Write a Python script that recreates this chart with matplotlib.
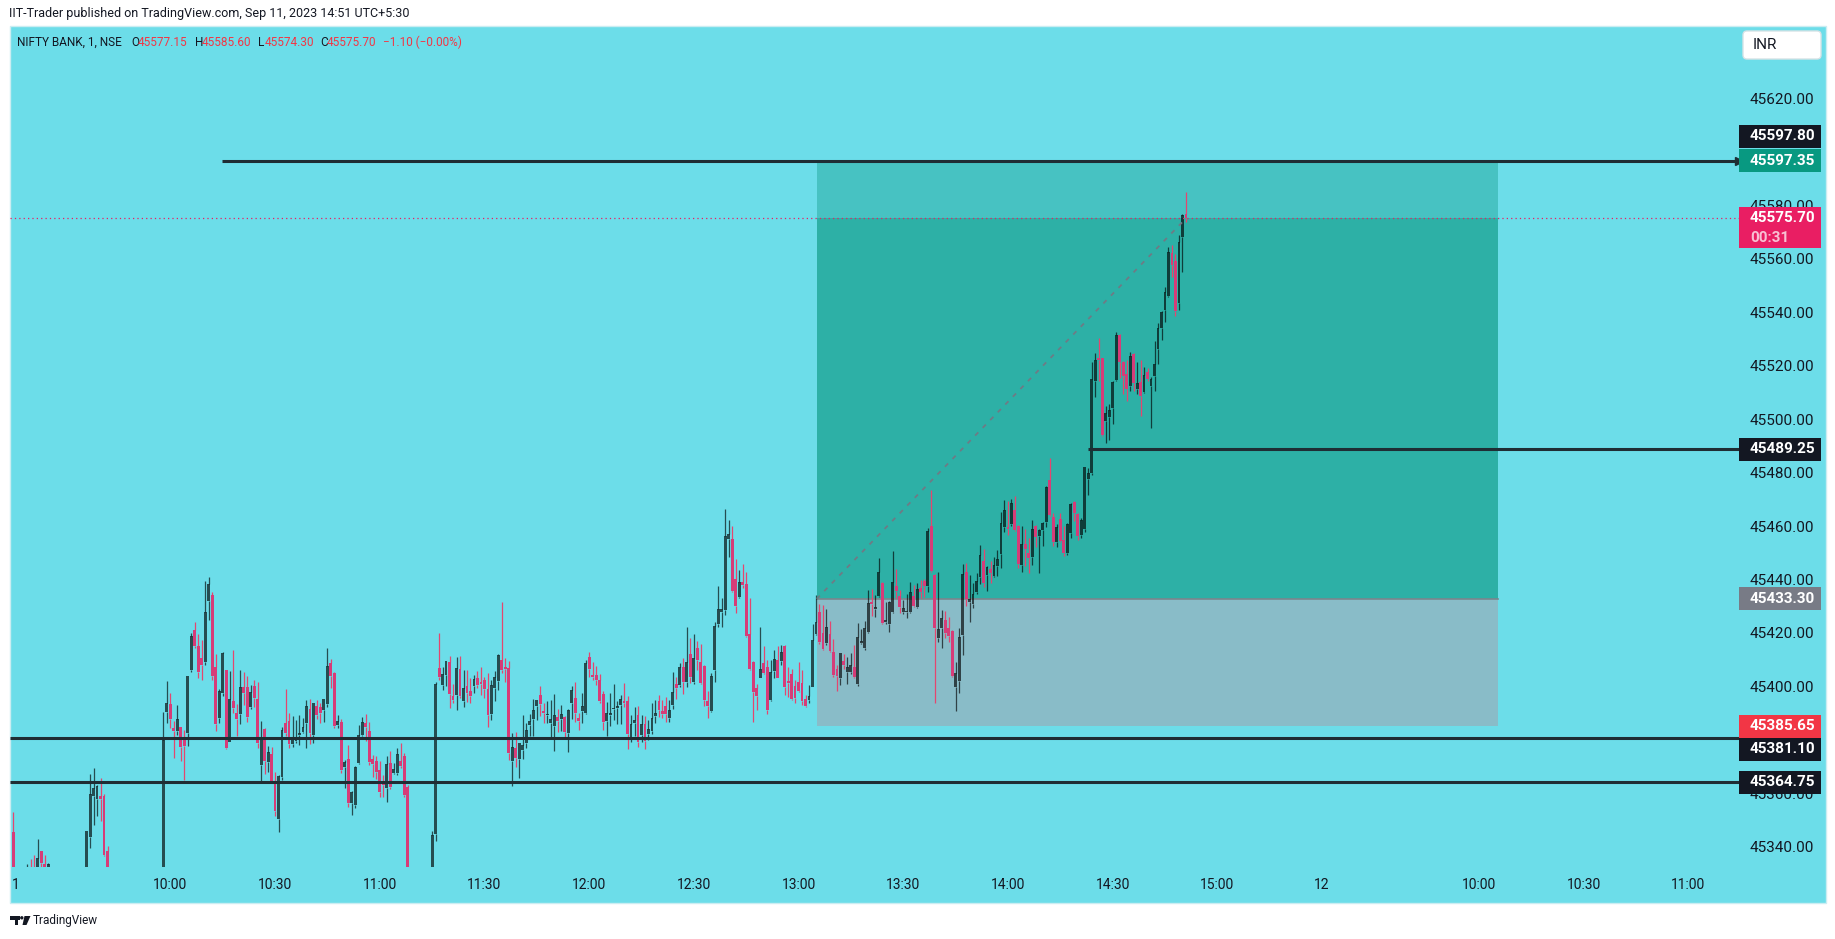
"""
NIFTY BANK 1-minute candles, TradingView style snapshot
"""
import matplotlib
matplotlib.use("Agg")
import matplotlib.pyplot as plt
from matplotlib.patches import Rectangle, FancyBboxPatch, Polygon, Circle
import numpy as np

plt.rcParams['font.family'] = ['Roboto', 'DejaVu Sans']

# ---- data (1-minute bars from 09:15 on Sep 11) ----
opens = [
    45346.0, 45322.0, 45318.0, 45324.0, 45326.0, 45332.0, 45330.0, 45326.0, 45339.0, 45334.0,
    45330.0, 45332.0, 45320.0, 45316.0, 45318.0, 45322.0, 45320.0, 45314.0, 45318.0, 45324.0,
    45326.0, 45328.0, 45344.3, 45359.5, 45358.5, 45359.5, 45359.5, 45338.9, 45325.0, 45320.0,
    45324.0, 45322.0, 45315.0, 45310.0, 45316.0, 45322.0, 45319.0, 45314.0, 45318.0, 45323.0,
    45320.0, 45318.0, 45320.0, 45322.0, 45391.0, 45393.8, 45384.8, 45384.0, 45385.2, 45381.5,
    45383.0, 45406.6, 45421.6, 45415.6, 45411.2, 45409.7, 45432.6, 45434.7, 45407.7, 45388.8,
    45398.1, 45406.6, 45379.8, 45395.0, 45390.4, 45390.3, 45400.2, 45400.2, 45393.0, 45400.7,
    45395.8, 45371.1, 45384.6, 45372.4, 45375.2, 45364.9, 45350.9, 45366.8, 45386.7, 45387.6,
    45379.0, 45380.2, 45382.2, 45383.3, 45386.9, 45391.9, 45382.3, 45393.2, 45392.7, 45391.7,
    45393.9, 45409.4, 45405.4, 45386.0, 45387.3, 45370.5, 45373.4, 45357.0, 45356.2, 45372.0,
    45382.4, 45386.7, 45383.9, 45373.3, 45372.6, 45369.2, 45364.5, 45362.4, 45371.8, 45368.0,
    45368.2, 45372.5, 45374.4, 45363.0, 45322.0, 45316.0, 45320.0, 45318.0, 45322.0, 45326.0,
    45324.0, 45345.3, 45407.4, 45401.0, 45404.8, 45409.8, 45397.0, 45397.3, 45407.0, 45395.0,
    45400.6, 45398.8, 45400.6, 45403.6, 45402.2, 45402.9, 45399.5, 45390.2, 45400.0, 45402.6,
    45410.4, 45407.9, 45407.5, 45372.7, 45377.3, 45373.3, 45376.7, 45379.4, 45386.1, 45388.5,
    45393.2, 45397.5, 45391.3, 45389.8, 45386.7, 45385.7, 45389.0, 45388.5, 45388.9, 45383.2,
    45394.4, 45396.3, 45388.8, 45391.4, 45390.4, 45411.5, 45404.8, 45404.8, 45402.9, 45397.7,
    45387.7, 45389.8, 45392.2, 45392.6, 45393.5, 45395.2, 45395.0, 45381.4, 45387.0, 45389.8,
    45382.3, 45386.4, 45382.7, 45384.0, 45389.6, 45395.0, 45391.4, 45393.2, 45388.6, 45393.6,
    45401.4, 45401.0, 45407.9, 45402.3, 45412.6, 45402.0, 45414.9, 45409.8, 45408.2, 45395.2,
    45391.4, 45406.7, 45423.9, 45428.5, 45429.1, 45455.7, 45455.7, 45440.7, 45433.9, 45439.6,
    45438.8, 45420.1, 45409.6, 45400.0, 45403.8, 45409.2, 45407.7, 45395.4, 45406.4, 45410.4,
    45410.2, 45415.6, 45402.5, 45405.2, 45400.7, 45402.3, 45401.7, 45396.0, 45395.4, 45400.4,
    45420.1, 45428.4, 45420.4, 45416.6, 45420.1, 45413.4, 45407.0, 45403.8, 45410.0, 45406.0,
    45406.0, 45407.9, 45401.3, 45416.8, 45414.8, 45421.0, 45432.2, 45429.5, 45434.4, 45439.1,
    45424.5, 45423.9, 45428.3, 45438.1, 45434.4, 45428.2, 45428.2, 45428.3, 45434.4, 45430.4,
    45437.2, 45440.0, 45438.2, 45460.7, 45442.2, 45418.8, 45422.5, 45425.4, 45422.3, 45421.3,
    45400.2, 45402.7, 45419.8, 45443.2, 45432.3, 45431.4, 45435.7, 45441.6, 45447.5, 45442.2,
    45444.5, 45442.0, 45445.7, 45450.1, 45460.3, 45460.3, 45461.3, 45466.6, 45460.7, 45446.0,
    45453.8, 45450.3, 45449.1, 45460.6, 45457.0, 45459.1, 45462.2, 45477.8, 45464.1, 45454.7,
    45463.2, 45455.3, 45450.3, 45458.1, 45469.6, 45465.1, 45457.2, 45459.4, 45478.2, 45480.5,
    45515.0, 45523.3, 45523.3, 45500.0, 45501.5, 45504.9, 45515.2, 45532.1, 45522.1, 45517.4,
    45512.9, 45524.9, 45511.8, 45514.6, 45510.8, 45518.3, 45512.9, 45516.7, 45526.8, 45534.6,
    45541.4, 45546.7, 45562.9, 45559.9, 45544.2, 45568.6, 45577.15,
]
highs = [
    45353.5, 45328.0, 45326.0, 45330.0, 45334.0, 45336.0, 45337.5, 45343.5, 45339.0, 45337.5,
    45334.5, 45333.0, 45325.0, 45322.0, 45326.0, 45328.0, 45324.0, 45322.0, 45326.0, 45330.0,
    45331.0, 45346.5, 45367.7, 45370.0, 45363.5, 45366.2, 45360.3, 45340.8, 45330.0, 45327.0,
    45329.0, 45326.0, 45320.0, 45318.0, 45324.0, 45328.0, 45325.0, 45320.0, 45326.0, 45330.0,
    45326.0, 45324.0, 45330.0, 45391.0, 45402.5, 45398.2, 45387.6, 45393.4, 45385.5, 45384.2,
    45404.5, 45420.7, 45424.7, 45420.0, 45417.8, 45440.0, 45441.4, 45435.7, 45412.6, 45399.4,
    45413.4, 45406.8, 45406.4, 45414.2, 45393.9, 45406.7, 45405.9, 45404.5, 45401.0, 45402.9,
    45402.2, 45387.6, 45385.0, 45378.3, 45377.9, 45368.5, 45367.5, 45385.2, 45399.6, 45390.4,
    45389.5, 45388.0, 45389.8, 45388.8, 45395.4, 45395.8, 45394.5, 45395.4, 45394.2, 45396.0,
    45414.8, 45410.7, 45405.8, 45389.8, 45388.5, 45373.0, 45378.6, 45361.5, 45370.9, 45386.0,
    45389.1, 45390.2, 45387.3, 45374.9, 45374.5, 45372.7, 45367.2, 45374.5, 45376.3, 45371.7,
    45377.6, 45379.5, 45375.6, 45363.5, 45328.0, 45324.0, 45327.0, 45326.0, 45330.0, 45331.0,
    45346.5, 45402.0, 45420.6, 45407.9, 45410.2, 45411.9, 45401.3, 45411.5, 45411.9, 45406.6,
    45406.6, 45403.6, 45404.8, 45406.3, 45407.8, 45404.1, 45405.4, 45402.9, 45406.4, 45412.5,
    45432.2, 45411.2, 45410.0, 45383.2, 45383.6, 45379.5, 45389.8, 45387.0, 45390.2, 45395.7,
    45395.6, 45400.6, 45394.2, 45395.2, 45395.4, 45397.7, 45391.9, 45393.5, 45389.4, 45392.0,
    45400.6, 45402.3, 45390.6, 45398.2, 45410.4, 45413.5, 45409.8, 45408.2, 45405.1, 45398.8,
    45394.8, 45397.9, 45401.3, 45395.0, 45397.5, 45401.7, 45396.9, 45389.8, 45392.9, 45393.3,
    45389.8, 45389.4, 45387.9, 45394.5, 45395.4, 45397.3, 45395.4, 45396.4, 45395.4, 45406.0,
    45404.2, 45409.4, 45411.0, 45422.9, 45418.5, 45420.1, 45417.6, 45416.4, 45408.5, 45398.8,
    45405.7, 45424.8, 45438.1, 45433.7, 45466.9, 45462.8, 45460.6, 45448.4, 45444.0, 45446.3,
    45443.5, 45433.7, 45410.0, 45401.4, 45422.9, 45415.6, 45410.4, 45410.4, 45414.2, 45415.6,
    45416.0, 45416.0, 45407.9, 45406.9, 45402.9, 45409.5, 45406.6, 45397.3, 45401.0, 45423.9,
    45434.7, 45431.4, 45431.0, 45429.5, 45425.0, 45418.2, 45408.5, 45413.2, 45412.6, 45411.7,
    45412.9, 45416.0, 45424.1, 45422.0, 45425.1, 45436.6, 45436.9, 45434.7, 45448.5, 45439.5,
    45432.2, 45432.6, 45451.2, 45444.3, 45436.5, 45433.0, 45435.3, 45439.7, 45438.5, 45439.3,
    45440.4, 45440.6, 45459.7, 45474.0, 45442.5, 45443.2, 45429.1, 45428.8, 45426.4, 45421.6,
    45409.5, 45422.3, 45446.4, 45446.8, 45442.2, 45439.1, 45442.9, 45453.5, 45452.0, 45445.5,
    45447.5, 45449.1, 45451.6, 45465.8, 45470.3, 45470.0, 45470.7, 45471.8, 45461.0, 45460.6,
    45459.3, 45456.0, 45462.8, 45461.0, 45459.5, 45462.0, 45475.5, 45485.9, 45465.3, 45461.2,
    45465.5, 45460.7, 45461.6, 45469.2, 45470.0, 45465.5, 45463.7, 45482.8, 45482.2, 45521.8,
    45525.4, 45530.8, 45523.6, 45505.5, 45506.2, 45514.9, 45533.1, 45532.5, 45522.4, 45522.7,
    45525.6, 45525.2, 45522.1, 45522.7, 45520.0, 45519.8, 45516.5, 45529.8, 45536.4, 45541.0,
    45550.1, 45565.1, 45565.7, 45562.4, 45569.5, 45577.3, 45585.6,
]
lows = [
    45320.0, 45310.0, 45312.0, 45318.0, 45322.0, 45326.0, 45322.0, 45324.0, 45330.0, 45326.0,
    45328.0, 45318.0, 45312.0, 45308.0, 45314.0, 45316.0, 45310.0, 45310.0, 45312.0, 45318.0,
    45320.0, 45325.0, 45339.9, 45348.6, 45352.1, 45350.0, 45337.0, 45318.0, 45316.0, 45314.0,
    45318.0, 45312.0, 45306.0, 45304.0, 45312.0, 45316.0, 45310.0, 45308.0, 45314.0, 45318.0,
    45314.0, 45312.0, 45316.0, 45318.0, 45387.0, 45385.0, 45373.7, 45382.2, 45372.8, 45365.4,
    45378.2, 45406.0, 45415.0, 45403.7, 45403.0, 45408.7, 45425.3, 45403.0, 45383.7, 45386.7,
    45397.0, 45377.0, 45379.8, 45390.4, 45382.0, 45386.5, 45393.6, 45387.3, 45392.0, 45393.0,
    45377.6, 45365.1, 45367.9, 45368.6, 45364.5, 45352.2, 45346.2, 45365.5, 45382.0, 45377.4,
    45377.7, 45379.2, 45378.5, 45383.0, 45377.6, 45379.0, 45379.5, 45388.2, 45386.7, 45387.3,
    45392.7, 45399.8, 45385.0, 45385.1, 45368.2, 45362.4, 45355.5, 45352.4, 45355.0, 45371.5,
    45382.0, 45380.2, 45371.1, 45366.5, 45365.8, 45359.3, 45359.3, 45357.4, 45362.0, 45367.7,
    45367.4, 45370.0, 45359.3, 45318.0, 45312.0, 45310.0, 45314.0, 45312.0, 45318.0, 45320.0,
    45320.0, 45342.8, 45402.9, 45399.1, 45400.6, 45392.5, 45394.4, 45391.7, 45396.3, 45392.9,
    45394.8, 45394.2, 45398.2, 45399.8, 45397.3, 45396.3, 45385.4, 45387.9, 45395.0, 45399.2,
    45405.4, 45402.3, 45373.0, 45363.2, 45370.5, 45366.1, 45373.2, 45377.3, 45381.9, 45381.9,
    45387.9, 45389.4, 45386.9, 45386.7, 45381.4, 45376.4, 45383.6, 45384.0, 45380.8, 45376.1,
    45388.5, 45387.3, 45384.2, 45386.9, 45390.1, 45404.1, 45402.9, 45401.0, 45394.5, 45384.2,
    45381.9, 45385.7, 45387.9, 45386.4, 45386.4, 45392.9, 45377.1, 45379.8, 45381.9, 45378.0,
    45379.8, 45377.0, 45380.5, 45382.8, 45386.9, 45389.2, 45388.6, 45387.3, 45387.3, 45392.0,
    45396.0, 45400.2, 45397.7, 45400.2, 45401.9, 45401.6, 45406.7, 45401.5, 45393.2, 45388.8,
    45391.0, 45402.3, 45422.9, 45422.9, 45427.3, 45449.1, 45436.0, 45428.1, 45433.5, 45437.5,
    45419.0, 45406.5, 45387.3, 45391.7, 45403.5, 45405.0, 45390.2, 45395.2, 45403.5, 45403.5,
    45408.5, 45397.3, 45396.7, 45395.5, 45394.2, 45398.5, 45393.6, 45393.0, 45394.2, 45400.2,
    45419.7, 45416.5, 45414.0, 45416.0, 45413.5, 45404.2, 45398.9, 45401.0, 45407.0, 45401.4,
    45405.0, 45403.5, 45400.8, 45416.5, 45414.2, 45420.4, 45426.9, 45426.4, 45434.0, 45423.8,
    45424.0, 45421.0, 45428.0, 45433.5, 45428.1, 45427.5, 45426.3, 45428.0, 45430.3, 45430.0,
    45433.5, 45434.1, 45436.0, 45443.5, 45394.4, 45417.0, 45414.8, 45418.5, 45417.0, 45404.0,
    45391.2, 45398.0, 45412.3, 45430.7, 45424.8, 45429.8, 45435.2, 45438.9, 45437.9, 45436.4,
    45439.1, 45441.5, 45442.0, 45444.7, 45458.4, 45457.2, 45460.7, 45458.7, 45445.0, 45443.5,
    45445.6, 45443.1, 45446.0, 45452.8, 45442.9, 45453.2, 45460.2, 45464.3, 45453.2, 45452.8,
    45454.6, 45449.5, 45449.8, 45456.0, 45462.6, 45455.3, 45455.9, 45458.2, 45472.2, 45479.7,
    45509.0, 45515.0, 45494.2, 45491.8, 45492.8, 45498.7, 45515.0, 45515.8, 45510.0, 45507.5,
    45511.2, 45511.2, 45510.0, 45501.7, 45510.5, 45515.0, 45497.4, 45511.2, 45521.2, 45530.2,
    45537.0, 45546.3, 45553.9, 45539.2, 45541.4, 45555.8, 45574.3,
]
closes = [
    45322.0, 45318.0, 45324.0, 45326.0, 45332.0, 45328.0, 45326.0, 45336.5, 45334.5, 45332.0,
    45334.0, 45320.0, 45316.0, 45318.0, 45322.0, 45320.0, 45314.0, 45318.0, 45324.0, 45326.0,
    45328.0, 45346.5, 45360.3, 45362.7, 45363.2, 45358.5, 45337.5, 45325.0, 45320.0, 45324.0,
    45322.0, 45315.0, 45310.0, 45316.0, 45322.0, 45319.0, 45314.0, 45318.0, 45323.0, 45320.0,
    45318.0, 45320.0, 45322.0, 45380.5, 45394.5, 45388.2, 45383.8, 45388.2, 45377.8, 45378.2,
    45404.3, 45419.3, 45415.6, 45406.0, 45408.6, 45428.3, 45438.8, 45404.3, 45386.5, 45398.9,
    45413.0, 45377.6, 45395.8, 45392.5, 45388.2, 45400.3, 45398.2, 45389.0, 45398.4, 45396.3,
    45379.5, 45381.1, 45372.8, 45376.0, 45364.9, 45353.9, 45367.0, 45384.3, 45383.2, 45379.0,
    45380.8, 45380.9, 45383.0, 45385.4, 45393.2, 45383.2, 45394.2, 45389.8, 45390.7, 45395.8,
    45408.2, 45404.4, 45385.7, 45387.5, 45369.2, 45372.1, 45357.0, 45361.1, 45370.5, 45382.4,
    45387.3, 45385.5, 45372.4, 45371.5, 45368.6, 45361.2, 45363.6, 45371.5, 45363.0, 45369.6,
    45375.4, 45370.8, 45359.9, 45322.0, 45316.0, 45320.0, 45318.0, 45322.0, 45326.0, 45324.0,
    45344.9, 45401.6, 45404.1, 45405.1, 45410.0, 45397.7, 45395.4, 45407.5, 45396.9, 45399.9,
    45398.2, 45397.0, 45403.3, 45401.0, 45401.5, 45399.5, 45389.8, 45401.0, 45404.1, 45412.2,
    45406.6, 45407.0, 45375.7, 45377.7, 45373.8, 45379.2, 45378.6, 45384.4, 45387.6, 45391.7,
    45395.4, 45393.8, 45390.4, 45390.1, 45388.5, 45389.8, 45387.5, 45390.2, 45383.6, 45391.7,
    45399.1, 45390.7, 45387.7, 45393.3, 45409.4, 45407.1, 45404.2, 45402.9, 45395.2, 45387.3,
    45390.4, 45390.4, 45392.5, 45393.2, 45396.0, 45394.2, 45382.7, 45386.4, 45387.9, 45379.8,
    45386.4, 45380.0, 45384.6, 45388.6, 45390.7, 45391.7, 45390.2, 45390.2, 45391.7, 45398.5,
    45399.8, 45407.9, 45402.3, 45409.8, 45404.2, 45411.0, 45410.4, 45401.9, 45395.4, 45393.3,
    45404.4, 45423.1, 45429.5, 45429.5, 45456.8, 45457.6, 45436.4, 45430.6, 45439.6, 45438.5,
    45419.5, 45407.0, 45398.5, 45396.9, 45407.0, 45405.7, 45391.7, 45406.0, 45410.7, 45403.8,
    45413.3, 45400.4, 45401.9, 45396.0, 45396.3, 45398.9, 45395.2, 45393.3, 45396.9, 45417.9,
    45424.7, 45417.3, 45414.5, 45422.8, 45413.9, 45404.8, 45404.4, 45412.9, 45408.5, 45407.9,
    45408.5, 45404.2, 45419.0, 45417.6, 45422.3, 45431.6, 45431.4, 45430.1, 45443.2, 45424.4,
    45425.5, 45432.2, 45439.6, 45436.2, 45430.1, 45429.7, 45428.9, 45435.7, 45430.8, 45436.9,
    45436.0, 45438.2, 45458.7, 45443.8, 45422.5, 45422.0, 45426.0, 45420.6, 45419.5, 45404.6,
    45405.5, 45419.1, 45442.6, 45433.2, 45433.2, 45435.0, 45440.0, 45449.7, 45439.4, 45445.1,
    45443.1, 45446.0, 45448.2, 45461.6, 45466.6, 45459.4, 45469.0, 45459.1, 45446.3, 45453.8,
    45451.8, 45448.7, 45459.4, 45456.6, 45459.1, 45461.6, 45475.3, 45464.7, 45454.7, 45460.3,
    45455.0, 45450.3, 45461.3, 45468.8, 45465.6, 45456.8, 45462.8, 45482.5, 45480.3, 45515.5,
    45522.7, 45522.7, 45494.6, 45502.7, 45504.0, 45514.6, 45532.1, 45522.1, 45516.7, 45511.8,
    45524.2, 45514.0, 45514.2, 45509.4, 45517.1, 45515.5, 45515.5, 45521.2, 45534.8, 45540.8,
    45548.3, 45563.2, 45558.3, 45541.0, 45567.0, 45577.0, 45575.7,
]

# horizontal drawings and price scale labels
level_prices = [45597.35, 45489.25, 45381.10, 45364.75]
entry_price = 45433.30
target_price = 45597.35
stop_price = 45385.65
last_price = 45575.70
# 45600 and 45380 are hidden behind the coloured tags in the app
scale_ticks = [45620, 45580, 45560, 45540, 45520, 45500, 45480,
               45460, 45440, 45420, 45400, 45360, 45340]
tag_values = [45597.80, 45597.35, 45489.25, 45433.30, 45385.65, 45381.10, 45364.75]
tag_colors = ['#131722', '#089981', '#131722', '#787b86', '#f23645', '#131722', '#131722']
time_labels = ['1', '10:00', '10:30', '11:00', '11:30', '12:00', '12:30', '13:00',
               '13:30', '14:00', '14:30', '15:00', '12', '10:00', '10:30', '11:00']
time_bars = [0.8, 45, 75, 105, 135, 165, 195, 225, 255, 285, 315, 345, 375, 420, 450, 480]
ohlc_header = [("O", "45577.15"), ("H", "45585.60"), ("L", "45574.30"), ("C", "45575.70")]

# ---- layout in pixels ----
W, H = 1835, 939
BG = '#6cdde9'
UP = (0, 0, 0, 0.65)
DOWN = '#d63c78'
DOWN_WICK = '#e4466f'
LINE = '#1f2d34'
TXT = '#131722'
RED = '#f23645'

bar0_px, bar_px = 13.3, 3.49         # x pixel of first bar, pixels per bar
ref_px, ref_price, pt_px = 100, 45620, 2.672   # y pixel of 45620, pixels per point
left, right, top, bottom = 10, 1739, 26, 867


def fx(px):
    return px / W


def fy(py):
    return 1 - py / H


def price_at(py):
    return ref_price - (py - ref_px) / pt_px


def bar_at(px):
    return (px - bar0_px) / bar_px


fig = plt.figure(figsize=(W / 100, H / 100), dpi=100)
fig.patch.set_facecolor('white')

# cyan chart panel
fig.add_artist(Rectangle((fx(10), fy(903)), (1826 - 10) / W, (903 - 26) / H,
                         transform=fig.transFigure, facecolor=BG,
                         edgecolor='#cbedf2', lw=1.0, zorder=0))

ax = fig.add_axes([fx(left), fy(bottom), (right - left) / W, (bottom - top) / H])
ax.set_xlim(bar_at(left), bar_at(right))
ax.set_ylim(price_at(bottom), price_at(top))
ax.axis('off')
ax.patch.set_alpha(0)

# long position tool
box_l, box_r = bar_at(816.7), bar_at(1498)
ax.add_patch(Rectangle((box_l, entry_price), box_r - box_l, last_price - entry_price,
                       facecolor='#2db0a6', lw=0, zorder=1))
ax.add_patch(Rectangle((box_l, last_price), box_r - box_l, target_price - last_price,
                       facecolor='#47c2c2', lw=0, zorder=1))
ax.add_patch(Rectangle((box_l, stop_price), box_r - box_l, entry_price - stop_price,
                       facecolor='#89bcc8', lw=0, zorder=1))
ax.plot([box_l, box_r], [entry_price, entry_price], color='#7a858c', lw=1.2, zorder=2)

# candles
x = np.arange(len(closes))
o = np.array(opens)
c = np.array(closes)
hi = np.array(highs)
lo = np.array(lows)
up = c >= o
body_lo = np.minimum(o, c)
body_hi = np.maximum(o, c)
body_h = np.maximum(body_hi - body_lo, 0.4)
colors = [UP if u else DOWN for u in up]
wick_colors = [UP if u else DOWN_WICK for u in up]
ax.vlines(x, body_hi, np.maximum(hi, body_hi), colors=wick_colors, lw=0.9, zorder=3)
ax.vlines(x, np.minimum(lo, body_lo), body_lo, colors=wick_colors, lw=0.9, zorder=3)
ax.bar(x, body_h, bottom=body_lo, width=0.82, color=colors, linewidth=0, zorder=4)

# dashed line from entry to last price
ax.plot([box_l, x[-1]], [entry_price, last_price], color='#6e7b85', lw=1.3,
        dashes=(2.5, 3.5), zorder=5)

# last price dotted line
ax.plot([bar_at(left), bar_at(right)], [last_price, last_price], color='#e91e63',
        lw=0.9, dashes=(1, 2.5), zorder=5)

# horizontal levels
starts = [bar_at(222), bar_at(1087.7), bar_at(left), bar_at(left)]
for p, s in zip(level_prices, starts):
    ax.plot([s, bar_at(right)], [p, p], color=LINE, lw=2.2, zorder=6,
            solid_capstyle='butt', clip_on=False)
ax.plot([bar_at(1739)], [level_prices[0]], marker='>', ms=6, color=LINE,
        zorder=7, clip_on=False)

# price scale tick labels
ytr = ax.get_yaxis_transform()


def axfrac(px):
    return (px - left) / (right - left)


for t in scale_ticks:
    ax.text(axfrac(1750), t, f"{t:.2f}", transform=ytr, ha='left', va='center',
            fontsize=11, color=TXT, zorder=8, clip_on=False)

# coloured price tags (some nudged to avoid overlap, as the app does)
tag_shift_px = {45597.80: -23, 45381.10: 11}
half = 11.5 / pt_px
for v, col in zip(tag_values, tag_colors):
    yc = v - tag_shift_px.get(v, 0) / pt_px
    ax.add_patch(Rectangle((axfrac(1739), yc - half), axfrac(1821) - axfrac(1739), 2 * half,
                           transform=ytr, facecolor=col, lw=0, zorder=9, clip_on=False))
    ax.text(axfrac(1750), yc, f"{v:.2f}", transform=ytr, ha='left', va='center',
            fontsize=11, fontweight='bold', color='white', zorder=10, clip_on=False)

# last price tag with countdown
ax.add_patch(Rectangle((axfrac(1739), price_at(248)), axfrac(1821) - axfrac(1739),
                       (248 - 207) / pt_px, transform=ytr, facecolor='#e91e63',
                       lw=0, zorder=9, clip_on=False))
ax.text(axfrac(1750), price_at(218), f"{last_price:.2f}", transform=ytr, ha='left',
        va='center', fontsize=11, fontweight='bold', color='white', zorder=10,
        clip_on=False)
ax.text(axfrac(1750), price_at(238.5), "00:31", transform=ytr, ha='left',
        va='center', fontsize=11, fontweight='bold', color='#f8c0d3', zorder=10,
        clip_on=False)

# time axis
xtr = ax.get_xaxis_transform()
for lab, b in zip(time_labels, time_bars):
    ax.text(b, (bottom - 885) / (bottom - top), lab, transform=xtr, ha='center',
            va='center', fontsize=10, color=TXT, clip_on=False)

# currency box
fig.add_artist(FancyBboxPatch((1743, H - 59), 78, 28,
                              boxstyle="round,pad=0,rounding_size=4",
                              transform=None, facecolor='white',
                              edgecolor='#d6e3e6', lw=1.0, zorder=5))
fig.text(fx(1753), fy(45), "INR", fontsize=11, color=TXT, va='center', ha='left',
         zorder=6)

# headers
fig.text(fx(9), fy(14), "IIT-Trader published on TradingView.com, Sep 11, 2023 14:51 UTC+5:30",
         fontsize=9, color=TXT, va='center', ha='left')
hdr_y = fy(42)
fig.text(fx(17), hdr_y, "NIFTY BANK, 1, NSE", fontsize=8.5, color=TXT, va='center')
for (lab, val), px in zip(ohlc_header, [131, 195, 258, 320]):
    fig.text(fx(px), hdr_y, lab, fontsize=8.5, color=TXT, va='center')
    fig.text(fx(px + 6.8), hdr_y, val, fontsize=8.5, color=RED, va='center')
fig.text(fx(383), hdr_y, "\u22121.10 (\u22120.00%)", fontsize=8.5, color=RED, va='center')

# footer logo (drawn in pixel coordinates)
for patch in [Rectangle((10, H - 919.5), 9.5, 3.5),
              Rectangle((14.5, H - 925), 3.5, 9),
              Circle((21.8, H - 917.8), 1.7),
              Polygon([(24.5, H - 916), (30.5, H - 916), (26.5, H - 925), (22.5, H - 925)])]:
    patch.set_facecolor(TXT)
    patch.set_edgecolor('none')
    patch.set_transform(matplotlib.transforms.IdentityTransform())
    fig.add_artist(patch)
fig.text(fx(33), fy(920.5), "TradingView", fontsize=8.5, color=TXT, va='center')

fig.savefig("out.png", dpi=100, facecolor='white')
